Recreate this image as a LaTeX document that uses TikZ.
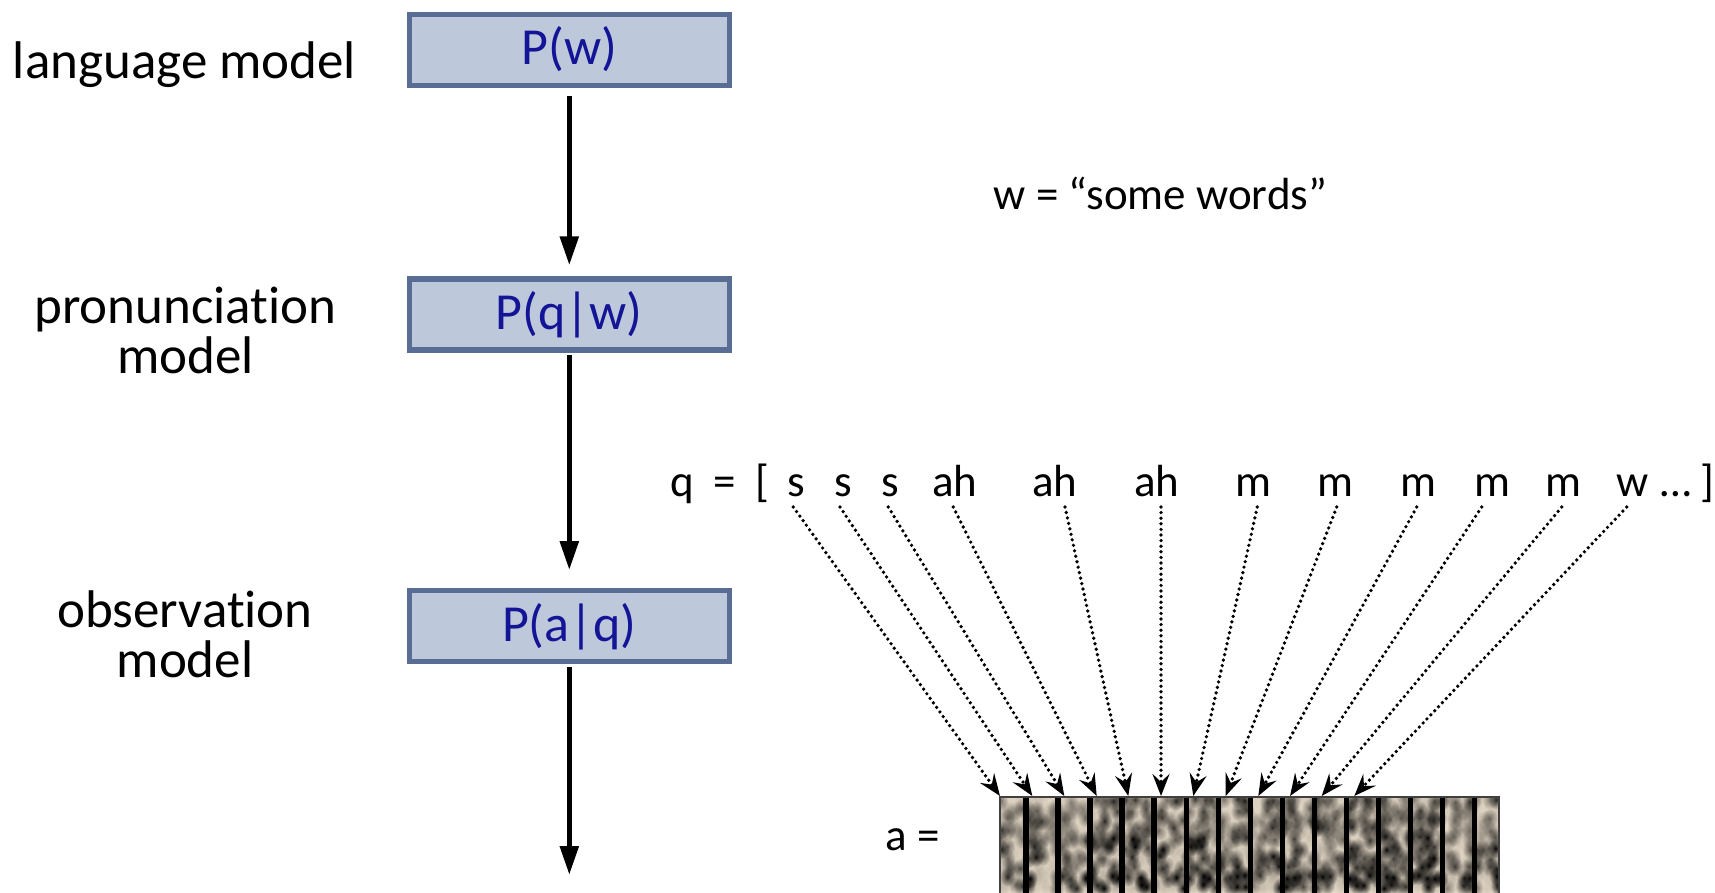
\documentclass[tikz,border=0pt]{standalone}
\usepackage{fontspec}
\setmainfont{Carlito}[Ligatures=NoCommon]
\usetikzlibrary{arrows.meta,fadings}
\definecolor{boxfill}{RGB}{190,200,219}
\definecolor{boxdraw}{RGB}{88,108,148}
\definecolor{boxtext}{RGB}{20,20,150}
\definecolor{specbg}{RGB}{234,222,204}
\tikzfading[name=blobfade, inner color=transparent!0, outer color=transparent!100]
\begin{document}
\begin{tikzpicture}[x=1pt,y=-1pt,
  modelbox/.style={draw=boxdraw, fill=boxfill, line width=5.3pt, minimum width=320pt, minimum height=71pt, inner sep=0pt, text=boxtext, font=\fontsize{52}{62}\selectfont, text height=35pt, text depth=4.6pt},
  biglabel/.style={font=\fontsize{53}{62}\selectfont, anchor=base, inner sep=0pt},
  smalltxt/.style={font=\fontsize{45}{54}\selectfont, anchor=base, inner sep=0pt},
  mainarrow/.style={line width=5.3pt, -{Triangle[length=29pt,width=18pt]}},
  dotarrow/.style={line width=3.7pt, dash pattern=on 0pt off 5.6pt, line cap=round, -{Stealth[length=22pt,width=17pt,inset=8pt]}},
  specframe/.style={line width=1.5pt, draw=black!75},
  specbar/.style={fill=black},
  blob/.style={fill=black, path fading=blobfade}
]
\useasboundingbox (0,0) rectangle (1715,893);

% left labels
\node[biglabel] (lm) at (184.5,78.3) {language model};
\node[biglabel] (pm1) at (185.5,323) {pronunciation};
\node[biglabel] (pm2) at (185.5,373) {model};
\node[biglabel] (om1) at (185,627) {observation};
\node[biglabel] (om2) at (185,677) {model};

% model boxes
\node[modelbox] (b1) at (569.3,49.8) {P(w)};
\node[modelbox] (b2) at (569.3,314.5) {P(q|w)};
\node[modelbox] (b3) at (569.3,626.3) {P(a|q)};
\coordinate (end3) at (569.3,875);

\draw[mainarrow, shorten <=8pt, shorten >=11pt] (b1) -- (b2);
\draw[mainarrow, shorten <=2pt, shorten >=18pt] (b2) -- (b3);
\draw[mainarrow, shorten <=3pt] (b3) -- (end3);

% right texts
\node[smalltxt] (wdef) at (1160.5,210) {w = “some words”};

\node[smalltxt] (qq) at (682.5,496.7) {q};
\node[smalltxt] (qeq) at (724.5,496.7) {=};
\node[smalltxt] (qlb) at (762.5,496.7) {[};
\foreach \px/\lab [count=\k] in {796.7/s, 843.3/s, 890/s, 955/ah, 1055/ah, 1156.7/ah, 1253/m, 1335/m, 1418/m, 1492/m, 1563/m, 1632.5/w}
  \node[smalltxt] (ph\k) at (\px,496.7) {\lab};
\node[smalltxt] (qdots) at (1676,496.7) {…};
\node[smalltxt] (qrb) at (1707,496.7) {]};

\node[smalltxt] (aeq) at (913,850) {a =};

% spectrogram
\begin{scope}
\clip (1000,797) rectangle (1499,893);
\fill[specbg] (1000,797) rectangle (1499,893);
\pgfmathsetseed{11}
\foreach \i in {0,...,71} {
  \pgfmathsetmacro\colf{0.55+0.7*rnd}
  \foreach \j/\base in {0/0.8, 1/0.7, 2/0.8, 3/0.7, 4/0.8, 5/0.95, 6/0.85, 7/0.95, 8/1.4, 9/1.15} {
    \pgfmathsetmacro\xx{1000+7*\i+2*rand}
    \pgfmathsetmacro\yy{800+9.6*\j+2*rand}
    \pgfmathsetmacro\op{min(1,\base*\colf*ifthenelse(rnd<0.4,0.12,0.6+0.5*rnd))}
    \fill[blob, opacity=\op] (\xx,\yy) ellipse (8 and 10);
  }
}
\end{scope}
\foreach \k in {0,...,14}
  \fill[specbar] ({1026+32.03*\k-2.65},797) rectangle ++(5.3,100);
\draw[specframe] (1000,797) rectangle (1499,900);

% dotted arrows from phones to frames
\foreach \sx/\tx [count=\k] in {793.3/1000, 840/1032.3, 888.3/1064.3, 953.3/1096.7, 1065/1128.3, 1161/1161, 1257.3/1193.3, 1336.7/1225.7, 1416.7/1258.3, 1481.7/1290, 1561.7/1321.7, 1626.7/1354.3} {
  \coordinate (qs\k) at (\sx,507);
  \coordinate (fr\k) at (\tx,796);
  \draw[dotarrow] (qs\k) -- (fr\k);
}
\end{tikzpicture}
\end{document}
